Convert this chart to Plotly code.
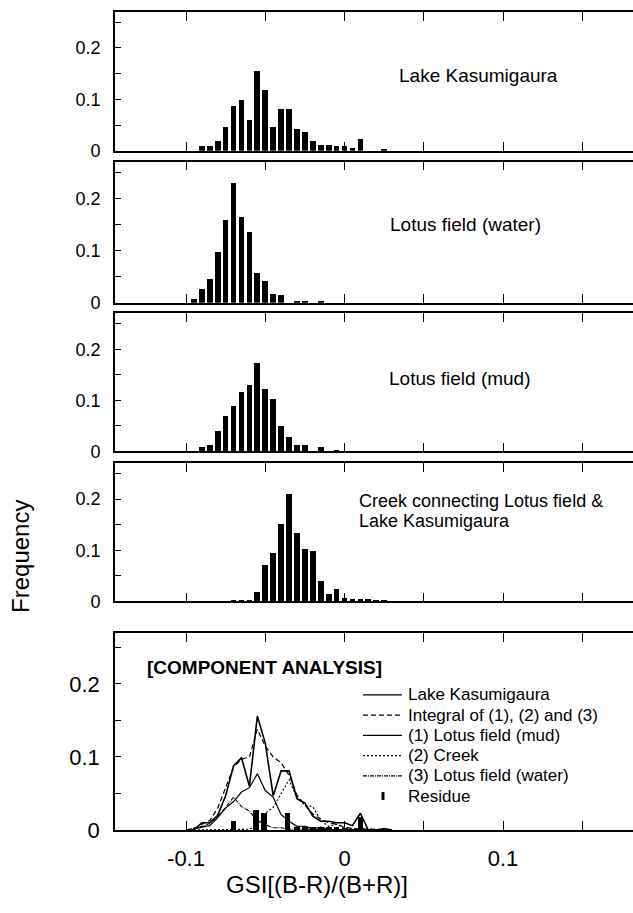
import plotly.graph_objects as go

# ---------------- data ----------------
lake_gsi = [-0.09, -0.085, -0.08, -0.075, -0.07, -0.065, -0.06, -0.055, -0.05, -0.045, -0.04,
            -0.035, -0.03, -0.025, -0.02, -0.015, -0.01, -0.005, 0.0, 0.005, 0.01, 0.025]
lake_freq = [0.010, 0.010, 0.020, 0.047, 0.088, 0.099, 0.060, 0.156, 0.119, 0.047, 0.081,
             0.081, 0.043, 0.037, 0.019, 0.012, 0.012, 0.010, 0.010, 0.006, 0.023, 0.002]

water_gsi = [-0.095, -0.09, -0.085, -0.08, -0.075, -0.07, -0.065, -0.06, -0.055, -0.05,
             -0.045, -0.04, -0.03, -0.025, -0.015]
water_freq = [0.008, 0.027, 0.046, 0.098, 0.159, 0.230, 0.164, 0.136, 0.058, 0.043,
              0.017, 0.015, 0.004, 0.003, 0.003]

mud_gsi = [-0.09, -0.085, -0.08, -0.075, -0.07, -0.065, -0.06, -0.055, -0.05, -0.045,
           -0.04, -0.035, -0.03, -0.025, -0.015, -0.005]
mud_freq = [0.008, 0.012, 0.039, 0.068, 0.088, 0.116, 0.130, 0.173, 0.122, 0.102,
            0.048, 0.028, 0.012, 0.012, 0.008, 0.002]

creek_gsi = [-0.07, -0.065, -0.06, -0.055, -0.05, -0.045, -0.04, -0.035, -0.03, -0.025,
             -0.02, -0.015, -0.01, -0.005, 0.0, 0.005, 0.01, 0.015, 0.02, 0.025]
creek_freq = [0.001, 0.001, 0.001, 0.017, 0.071, 0.093, 0.150, 0.210, 0.134, 0.102,
              0.097, 0.039, 0.014, 0.023, 0.005, 0.003, 0.003, 0.003, 0.002, 0.001]

# component analysis panel
comp_gsi = [-0.1, -0.095, -0.09, -0.085, -0.08, -0.075, -0.07, -0.065, -0.06, -0.055,
            -0.05, -0.045, -0.04, -0.035, -0.03, -0.025, -0.02, -0.015, -0.01, -0.005,
            0.0, 0.005, 0.01, 0.015, 0.02, 0.025, 0.03]
comp_lake = [0.0, 0.0, 0.010, 0.010, 0.020, 0.047, 0.088, 0.099, 0.060, 0.156,
             0.119, 0.047, 0.081, 0.081, 0.043, 0.037, 0.019, 0.012, 0.012, 0.010,
             0.010, 0.006, 0.023, 0.0, 0.0, 0.002, 0.0]
comp_integral = [0.0, 0.002, 0.008, 0.013, 0.030, 0.058, 0.086, 0.097, 0.100, 0.138,
                 0.115, 0.100, 0.092, 0.075, 0.048, 0.034, 0.022, 0.015, 0.010, 0.008,
                 0.004, 0.002, 0.002, 0.001, 0.001, 0.0, 0.0]
comp_mud = [0.0, 0.001, 0.004, 0.006, 0.017, 0.030, 0.039, 0.052, 0.058, 0.077,
            0.054, 0.045, 0.021, 0.012, 0.005, 0.005, 0.002, 0.004, 0.001, 0.001,
            0.0, 0.0, 0.0, 0.0, 0.0, 0.0, 0.0]
comp_creek = [0.0, 0.0, 0.0, 0.0, 0.0, 0.0, 0.0, 0.0, 0.001, 0.006,
              0.023, 0.031, 0.050, 0.069, 0.044, 0.034, 0.032, 0.013, 0.005, 0.008,
              0.002, 0.001, 0.001, 0.001, 0.001, 0.0, 0.0]
comp_water = [0.0, 0.002, 0.005, 0.009, 0.019, 0.031, 0.045, 0.032, 0.026, 0.012,
              0.008, 0.003, 0.003, 0.001, 0.001, 0.001, 0.0, 0.001, 0.0, 0.0,
              0.0, 0.0, 0.0, 0.0, 0.0, 0.0, 0.0]
residue_gsi = [-0.07, -0.056, -0.051, -0.036, -0.03, -0.025, -0.02, -0.015, -0.01, -0.005, 0.0, 0.01]
residue_val = [0.013, 0.027, 0.023, 0.023, 0.005, 0.004, 0.004, 0.005, 0.004, 0.004, 0.003, 0.018]

panel_titles = ["Lake Kasumigaura", "Lotus field (water)", "Lotus field (mud)",
                ["Creek connecting Lotus field &", "Lake Kasumigaura"]]
legend_labels = ["Lake Kasumigaura", "Integral of (1), (2) and (3)", "(1) Lotus field (mud)",
                 "(2) Creek", "(3) Lotus field (water)", "Residue"]
x_tickvals = [-0.15, -0.1, -0.05, 0.0, 0.05, 0.1, 0.15]
x_ticktext = ["", "-0.1", "", "0", "", "0.1", ""]
y_tickvals = [0, 0.05, 0.1, 0.15, 0.2, 0.25]
y_ticktext = ["0", "", "0.1", "", "0.2", ""]

# ---------------- layout helpers ----------------
W, H = 633, 913
FONT = "Liberation Sans, Arial, Helvetica, sans-serif"


def fx(px):
    return px / W


def fy(py):
    return 1 - py / H


panels_px = [(12, 153), (164, 307), (318, 458), (470, 610), (642, 842)]
XL = 115

fig = go.Figure()

hist = [(lake_gsi, lake_freq), (water_gsi, water_freq), (mud_gsi, mud_freq), (creek_gsi, creek_freq)]
for i, (xs, ys) in enumerate(hist):
    n = "" if i == 0 else str(i + 1)
    fig.add_trace(go.Bar(x=xs, y=ys, width=0.0036, marker=dict(color="black", line=dict(width=0)),
                         xaxis="x" + n, yaxis="y" + n, showlegend=False))

# component panel
fig.add_trace(go.Bar(x=residue_gsi, y=residue_val, width=0.0036,
                     marker=dict(color="black", line=dict(width=0)),
                     xaxis="x5", yaxis="y5", showlegend=False))
line_specs = [
    (comp_water, dict(color="black", width=1.1, dash="4px,1px,1px,1px")),
    (comp_creek, dict(color="black", width=1.1, dash="2px,2px")),
    (comp_mud, dict(color="black", width=1.2)),
    (comp_integral, dict(color="black", width=1.2, dash="5px,3px")),
    (comp_lake, dict(color="black", width=1.6)),
]
for ys, ln in line_specs:
    fig.add_trace(go.Scatter(x=comp_gsi, y=ys, mode="lines", line=ln,
                             xaxis="x5", yaxis="y5", showlegend=False))

layout = dict(width=W, height=H, margin=dict(l=0, r=0, t=0, b=0),
              paper_bgcolor="white", plot_bgcolor="white",
              font=dict(family=FONT, color="black"), showlegend=False, bargap=0)

for i, (top, bot) in enumerate(panels_px):
    n = "" if i == 0 else str(i + 1)
    last = i == 4
    layout["xaxis" + n] = dict(
        domain=[fx(XL), 1.0], range=[-0.1448, 0.182], anchor="y" + n,
        tickvals=x_tickvals, ticktext=x_ticktext, ticks="inside", ticklen=9, tickwidth=1.3,
        tickcolor="black", showline=True, linecolor="black", linewidth=1.6, mirror="ticks",
        showgrid=False, zeroline=False, showticklabels=last,
        tickfont=dict(size=22, family=FONT, color="black"), ticklabelstandoff=8)
    layout["yaxis" + n] = dict(
        domain=[fy(bot), fy(top)], range=[0, 0.27], anchor="x" + n,
        tickvals=y_tickvals, ticktext=y_ticktext, ticks="inside", ticklen=6, tickwidth=1.3,
        tickcolor="black", showline=True, linecolor="black", linewidth=1.6, mirror=False,
        showgrid=False, zeroline=False,
        tickfont=dict(size=22 if last else 18, family=FONT, color="black"),
        ticklabelstandoff=9)

annotations = []


def ann(text, px, py, size=19, xanchor="left", bold=False, angle=0):
    annotations.append(dict(text=("<b>%s</b>" % text) if bold else text,
                            x=fx(px), y=fy(py), xref="paper", yref="paper",
                            xanchor=xanchor, yanchor="middle", showarrow=False,
                            textangle=angle, font=dict(size=size, family=FONT, color="black")))


ann(panel_titles[0], 397, 77)
ann(panel_titles[1], 388, 228)
ann(panel_titles[2], 387, 384)
ann(panel_titles[3][0], 357, 508, size=18)
ann(panel_titles[3][1], 357, 529, size=18)
ann("[COMPONENT ANALYSIS]", 145, 677, size=19, bold=True)
ann("Frequency", 21, 565, size=24, xanchor="center", angle=-90)
ann("GSI[(B-R)/(B+R)]", 317, 897, size=24, xanchor="center")

# manual legend in the component panel
legend_rows = [705, 725.5, 746, 766.5, 787, 807.5]
legend_dash = ["solid", "5px,3px", "solid", "2px,2px", "4px,1px,1px,1px", None]
shapes = []
for lab, row, dsh in zip(legend_labels, legend_rows, legend_dash):
    ann(lab, 406, row, size=17)
    if dsh is None:
        shapes.append(dict(type="rect", xref="paper", yref="paper",
                           x0=fx(381.5), x1=fx(384.5), y0=fy(row + 4), y1=fy(row - 4),
                           fillcolor="black", line=dict(width=0)))
    else:
        shapes.append(dict(type="line", xref="paper", yref="paper",
                           x0=fx(363), x1=fx(402), y0=fy(row), y1=fy(row),
                           line=dict(color="black", width=1.3, dash=dsh)))

layout["annotations"] = annotations
layout["shapes"] = shapes
fig.update_layout(**layout)

fig.write_html("out.html")
